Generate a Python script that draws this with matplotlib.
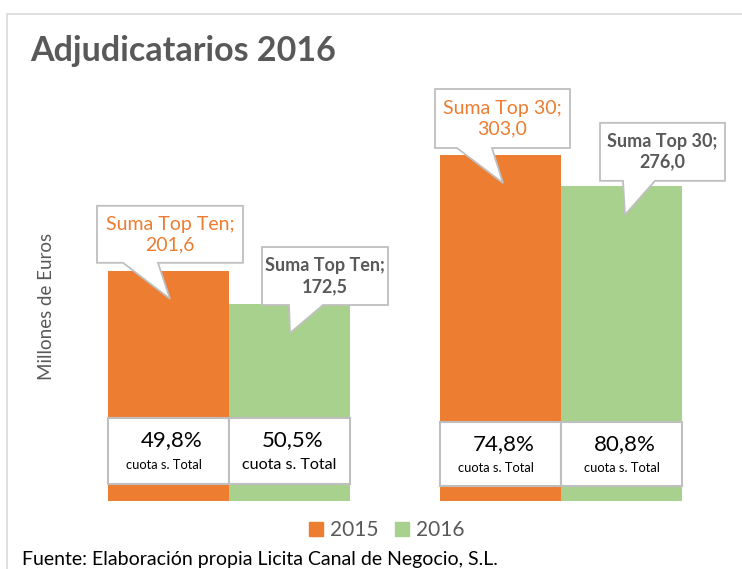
import numpy as np
import matplotlib.pyplot as plt
from matplotlib.patches import Polygon, Rectangle, Patch
from matplotlib.transforms import Affine2D, ScaledTranslation

plt.rcParams['font.family'] = ['Lato', 'DejaVu Sans']

# datos
grupos = ["Suma Top Ten", "Suma Top 30"]
anios = ["2015", "2016"]
total_2015 = [201.6, 303.0]
total_2016 = [172.5, 276.0]
cuota_2015 = [49.8, 74.8]
cuota_2016 = [50.5, 80.8]

naranja = '#ED7D31'
verde = '#A9D18E'
gris = '#595959'
borde = '#BFBFBF'

W, H = 742, 569
fig = plt.figure(figsize=(W / 100, H / 100), dpi=100)
ax = fig.add_axes([63 / W, 68 / H, 664 / W, 400 / H])

x = np.arange(len(grupos))
ancho = 0.3645
b15 = ax.bar(x - ancho / 2, total_2015, ancho, color=naranja, zorder=2)
b16 = ax.bar(x + ancho / 2, total_2016, ancho, color=verde, zorder=2)
ax.set_xlim(-0.5, 1.5)
ax.set_ylim(0, 350.3)
ax.set_axis_off()


def fmt(v):
    return f"{v:.1f}".replace('.', ',')


# callouts: (izq, der, abajo, arriba, base_izq, base_der, punta_x, punta_y) en px respecto a la cima de la barra
formas = {
    (0, 0): (-71.5, 74.5, 8, 65, -45.5, -10.5, 1.5, -28),
    (0, 1): (-27.5, 98.5, -1, 57, -0.5, 33.5, 0.5, -29),
    (1, 0): (-65.5, 69.5, 7, 66, -43.5, -8.5, 2.5, -28),
    (1, 1): (-21.5, 103.5, 5, 63, 1.5, 33.5, 3.5, -29),
}


def callout(xc, v, forma, texto, color, peso):
    L, R, B, T, bl, br, tx, ty = forma
    tr = Affine2D().scale(fig.dpi / 100) + ScaledTranslation(xc, v, ax.transData)
    verts = [(L, B), (bl, B), (tx, ty), (br, B), (R, B), (R, T), (L, T)]
    ax.add_patch(Polygon(verts, closed=True, facecolor='white', edgecolor=borde,
                         lw=1.3, transform=tr, zorder=4, clip_on=False))
    ax.text((L + R) / 2, (B + T) / 2, texto, transform=tr, ha='center', va='center',
            color=color, fontsize=14 if peso == 'normal' else 13, fontweight=peso,
            zorder=5, linespacing=1.25)


for i in range(len(grupos)):
    callout(x[i] - ancho / 2, total_2015[i], formas[(i, 0)],
            f"{grupos[i]};\n{fmt(total_2015[i])}", naranja, 'normal')
    callout(x[i] + ancho / 2, total_2016[i], formas[(i, 1)],
            f"{grupos[i]};\n{fmt(total_2016[i])}", gris, 'bold')

# cajas de cuota
cajas_y = [(15, 72.7), (13.1, 69.2)]
tam_cuota = [(9.3, 11.6), (9.3, 9.3)]
for i in range(len(grupos)):
    y0, y1 = cajas_y[i]
    for j, (cuota, dx) in enumerate(((cuota_2015[i], -ancho / 2), (cuota_2016[i], ancho / 2))):
        xc = x[i] + dx
        ax.add_patch(Rectangle((xc - ancho / 2, y0), ancho, y1 - y0, facecolor='white',
                               edgecolor=borde, lw=1.5, zorder=3))
        ax.text(xc + 0.01, y0 + (y1 - y0) * 0.66, f"{fmt(cuota)}%", ha='center', va='center',
                fontsize=16, color='black', zorder=5)
        ax.text(xc - 0.015 * (j == 0), y0 + (y1 - y0) * 0.28, "cuota s. Total", ha='center',
                va='center', fontsize=tam_cuota[i][j], color='black', zorder=5)

# marco
fig.patches.append(Rectangle((7 / W, -0.1), 1.2, 1 - 14 / H + 0.1, transform=fig.transFigure,
                             facecolor='none', edgecolor='#D9D9D9', lw=1.2))

fig.text(30 / W, 1 - 51 / H, "Adjudicatarios 2016", fontsize=24.5, fontweight='bold',
         color=gris, va='center', ha='left')
fig.text(47 / W, 1 - 306 / H, "Millones de Euros", rotation=90, fontsize=13.5,
         color=gris, va='center', ha='center')
fig.text(22 / W, 1 - 559 / H, "Fuente: Elaboración propia Licita Canal de Negocio, S.L.",
         fontsize=14, color='black', va='center', ha='left')

handles = [Patch(color=naranja), Patch(color=verde)]
fig.legend(handles, anios, loc='center', bbox_to_anchor=(387 / W, 1 - 530 / H), ncol=2,
           frameon=False, fontsize=15, labelcolor=gris, handlelength=0.65, handleheight=0.65,
           handletextpad=0.35, columnspacing=0.8)

fig.savefig('out.png', dpi=100)
